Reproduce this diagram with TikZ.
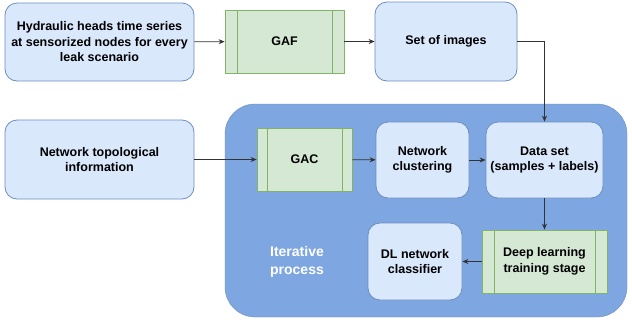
\documentclass[tikz,border=0pt]{standalone}
\usepackage{fontspec}
\setmainfont{Liberation Sans}
\usetikzlibrary{arrows.meta}
\definecolor{bfill}{HTML}{DAE8FC}
\definecolor{bstroke}{HTML}{6C8EBF}
\definecolor{gfill}{HTML}{D5E8D4}
\definecolor{gstroke}{HTML}{82B366}
\definecolor{cfill}{HTML}{7EA6E0}
\definecolor{arrowc}{HTML}{333333}
\begin{document}
\begin{tikzpicture}[x=1pt,y=-1pt,
  txt/.style={font=\fontsize{12.5}{15.5}\selectfont\bfseries, text=black, align=center, inner sep=0pt},
  bluebox/.style={txt, draw=bstroke, fill=bfill, rounded corners=12pt, line width=0.8pt},
  procbox/.style={txt, draw=gstroke, fill=gfill, line width=0.8pt,
    path picture={
      \draw[gstroke, line width=0.8pt] ([xshift=#1]path picture bounding box.north west) -- ([xshift=#1]path picture bounding box.south west);
      \draw[gstroke, line width=0.8pt] ([xshift=-#1]path picture bounding box.north east) -- ([xshift=-#1]path picture bounding box.south east);
    }},
  arr/.style={draw=arrowc, line width=0.8pt, -{Stealth[length=6pt,width=5pt]}}
]
\useasboundingbox (0,0) rectangle (632,322);
% container
\node[draw=bstroke, fill=cfill, rounded corners=30pt, minimum width=402pt, minimum height=213pt, inner sep=0pt] (cont) at (426,210.5) {};
% top row
\node[bluebox, minimum width=189pt, minimum height=78pt] (hyd) at (99.5,42) {Hydraulic heads time series\\at sensorized nodes for every\\leak scenario};
\node[procbox=12pt, minimum width=119pt, minimum height=63pt] (gaf) at (284.5,41.5) {GAF};
\node[bluebox, minimum width=142pt, minimum height=79pt] (set) at (446,41.5) {Set of images};
% second row
\node[bluebox, minimum width=189pt, minimum height=79pt] (topo) at (99.5,159.5) {Network topological\\information};
\node[procbox=10pt, minimum width=95pt, minimum height=63pt] (gac) at (304.5,159.5) {GAC};
\node[bluebox, minimum width=93pt, minimum height=76pt] (clu) at (422.5,160) {Network\\clustering};
\node[bluebox, minimum width=117pt, minimum height=76pt] (data) at (544.5,160) {Data set\\(samples + labels)};
% third row
\node[procbox=12pt, minimum width=125pt, minimum height=63pt] (deep) at (544.5,261.5) {Deep learning\\training stage};
\node[bluebox, minimum width=94pt, minimum height=77pt] (dl) at (415,261.5) {DL network\\classifier};
\node[txt, text=white, font=\fontsize{14}{18}\selectfont\bfseries] (iter) at (297,262) {Iterative\\process};
% connectors
\draw[arr] (hyd) -- (gaf);
\draw[arr] (gaf) -- (set);
\draw[arr] (set.east) -| (data.north);
\draw[arr] (topo) -- (gac);
\draw[arr] (gac) -- (clu);
\draw[arr] (clu) -- (data);
\draw[arr] (data) -- (deep);
\draw[arr] (deep) -- (dl);
\end{tikzpicture}
\end{document}
